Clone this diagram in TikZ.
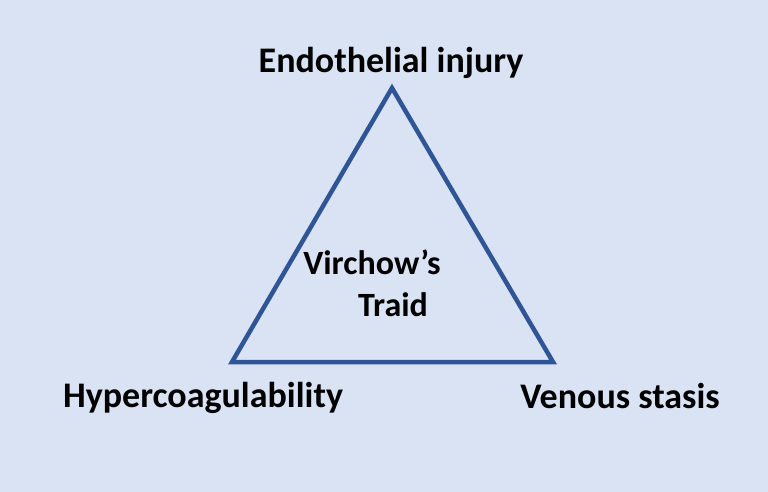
\documentclass[tikz,border=0pt]{standalone}
\usepackage{fontspec}
\setmainfont{Carlito}
\definecolor{bg}{HTML}{DAE3F3}
\definecolor{tri}{HTML}{2F5597}
\begin{document}
\begin{tikzpicture}[x=1pt,y=-1pt,
  lbl/.style={font=\bfseries\fontsize{36}{40}\selectfont, inner sep=0pt},
  mid/.style={font=\bfseries\fontsize{34}{38}\selectfont, inner sep=0pt}]
\fill[bg] (0,0) rectangle (768,492);
\useasboundingbox (0,0) rectangle (768,492);
\coordinate (t) at (392,88);
\coordinate (l) at (232,362);
\coordinate (r) at (553,362);
\draw[tri, line width=4.5pt, line join=miter] (t) -- (l) -- (r) -- cycle;
\node[lbl] (a) at (391,63) {Endothelial injury};
\node[mid] (b) at (372,262) {Virchow’s};
\node[mid] (c) at (393,305) {Traid};
\node[lbl] (d) at (203,398) {Hypercoagulability};
\node[lbl] (e) at (620,396) {Venous stasis};
\end{tikzpicture}
\end{document}
